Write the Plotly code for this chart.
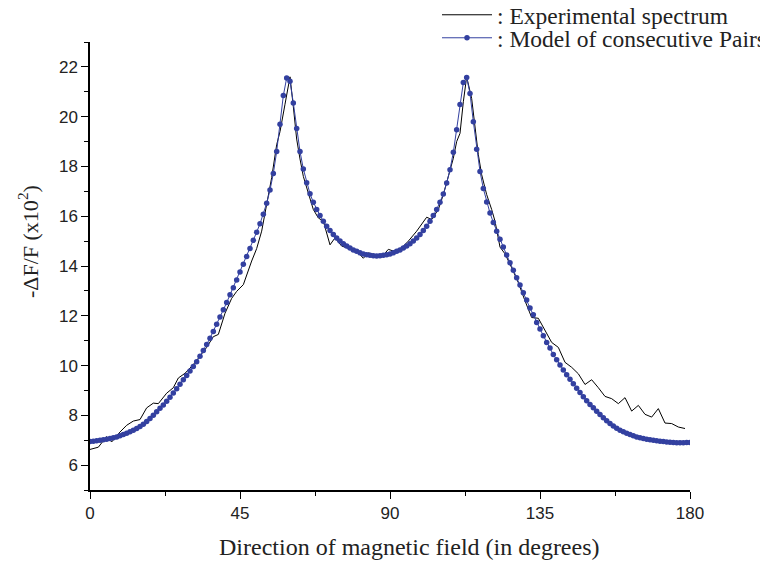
import plotly.graph_objects as go

# Model of consecutive pairs: one point per degree, 0..180
model_angle = list(range(181))
model_value = [
    6.95, 6.96, 6.98, 7.00, 7.02, 7.04, 7.07, 7.10, 7.13, 7.18, 7.23, 7.28, 7.34, 7.40, 7.47,
    7.55, 7.64, 7.75, 7.87, 8.00, 8.14, 8.28, 8.42, 8.57, 8.73, 8.90, 9.07, 9.25, 9.43, 9.60,
    9.78, 9.96, 10.15, 10.37, 10.60, 10.85, 11.10, 11.37, 11.66, 11.95, 12.24, 12.53, 12.84, 13.13, 13.44,
    13.76, 14.07, 14.38, 14.70, 15.03, 15.36, 15.70, 16.08, 16.52, 17.05, 17.72, 18.60, 19.70, 20.85, 21.55,
    21.42, 20.55, 19.52, 18.60, 17.90, 17.34, 16.90, 16.56, 16.27, 16.03, 15.80, 15.60, 15.43, 15.27, 15.13,
    15.00, 14.89, 14.80, 14.72, 14.64, 14.59, 14.53, 14.48, 14.45, 14.43, 14.41, 14.40, 14.41, 14.43, 14.45,
    14.48, 14.53, 14.59, 14.64, 14.72, 14.80, 14.89, 15.00, 15.13, 15.27, 15.43, 15.60, 15.80, 16.03, 16.27,
    16.56, 16.89, 17.33, 17.87, 18.57, 19.47, 20.49, 21.37, 21.57, 20.93, 19.80, 18.69, 17.80, 17.11, 16.57,
    16.13, 15.75, 15.40, 15.07, 14.76, 14.44, 14.13, 13.83, 13.53, 13.24, 12.93, 12.63, 12.31, 12.04, 11.73,
    11.47, 11.20, 10.93, 10.71, 10.44, 10.23, 10.02, 9.82, 9.63, 9.45, 9.27, 9.09, 8.92, 8.75, 8.59,
    8.44, 8.30, 8.16, 8.03, 7.90, 7.78, 7.67, 7.57, 7.48, 7.40, 7.34, 7.28, 7.23, 7.18, 7.13,
    7.10, 7.07, 7.04, 7.02, 7.00, 6.98, 6.96, 6.95, 6.93, 6.92, 6.91, 6.90, 6.90, 6.90, 6.91, 6.91,
]

# Experimental spectrum (angle in degrees, value)
exp_angle = [
    0, 2.5, 5, 6.5, 9, 11, 13, 15, 17, 19, 20.5, 23, 25, 26.5, 28.5, 31, 33, 35, 37, 38.5,
    40.5, 42.5, 44, 46, 48.5, 50, 51.5, 53, 54.5, 56, 57, 58.5, 60, 61, 62, 63, 64, 65.5, 67, 68.5,
    70, 72, 73.5, 75.5, 78.5, 80.5, 82, 83.5, 85, 87.5, 89.5, 91, 93.5, 95.5, 98, 99.5, 101, 102.5, 104.5, 106,
    107.5, 109, 110, 111, 112, 113, 114.5, 115.5, 116.5, 117.5, 119, 120.5, 121.5, 123, 124.5, 126.5, 128.5, 130.5,
    132.5, 134.5, 136.5, 138.5, 140.5, 142.5, 144.5, 146.5, 148.5, 150.5, 152.5, 154.5, 156.5, 158.5, 160.5,
    162.5, 164.5, 166.5, 168.5, 170.5, 172.5, 174.5, 176.5, 178.5,
]
exp_value = [
    6.63, 6.72, 7.15, 6.93, 7.33, 7.60, 7.77, 7.83, 8.30, 8.49, 8.47, 8.89, 9.11, 9.50, 9.69, 10.04, 10.38, 10.73, 11.16, 11.25,
    12.10, 12.70, 12.98, 13.25, 14.20, 14.70, 15.40, 16.40, 17.55, 18.87, 19.40, 20.50, 21.60, 20.40, 19.10, 18.30, 17.60, 16.93, 16.27, 15.93,
    15.80, 14.85, 15.13, 14.80, 14.67, 14.53, 14.31, 14.53, 14.47, 14.36, 14.67, 14.60, 14.73, 15.00, 15.40, 15.69, 15.96, 15.87, 16.27, 16.87,
    17.60, 18.33, 19.00, 19.33, 20.60, 21.60, 20.73, 19.67, 18.47, 17.67, 16.87, 16.27, 15.80, 14.76, 14.49, 13.93, 13.33, 12.60,
    11.93, 11.90, 11.40, 10.93, 10.73, 10.13, 9.93, 9.67, 9.24, 9.43, 9.11, 8.76, 8.67, 8.47, 8.71,
    8.17, 8.40, 8.04, 7.93, 8.27, 7.69, 7.67, 7.53, 7.47,
]

x_ticks = [0, 45, 90, 135, 180]
y_ticks = [6, 8, 10, 12, 14, 16, 18, 20, 22]

x_title = "Direction of magnetic field (in degrees)"
y_title = "-ΔF/F (x10<sup>2</sup>)"
name_exp = ": Experimental spectrum"
name_model = ": Model of consecutive Pairs"

BLUE = "#3340A0"
TEXT = "#222222"
SERIF = "Liberation Serif, Times New Roman, serif"
SANS = "Liberation Sans, Arial, sans-serif"

fig = go.Figure()
fig.add_trace(go.Scatter(
    x=exp_angle, y=exp_value, mode="lines", name=name_exp,
    line=dict(color="black", width=1), legend="legend",
))
fig.add_trace(go.Scatter(
    x=model_angle, y=model_value, mode="lines+markers", name=name_model,
    line=dict(color=BLUE, width=1),
    marker=dict(color=BLUE, size=5.5), legend="legend2",
))

axis_common = dict(
    showgrid=False, zeroline=False, showline=True, linecolor="black", linewidth=1.5,
    ticks="outside", ticklen=7, tickwidth=1.3, tickcolor="black", automargin=False,
    tickfont=dict(family=SANS, size=17, color=TEXT),
)
fig.update_xaxes(
    range=[0, 180], tickvals=x_ticks, **axis_common,
    minor=dict(ticks="outside", ticklen=4, tickwidth=1.3, tickcolor="black", dtick=22.5, tick0=0),
)
fig.update_yaxes(
    range=[5, 23], tickvals=y_ticks, **axis_common,
    minor=dict(ticks="outside", ticklen=4, tickwidth=1.3, tickcolor="black", dtick=1, tick0=5),
)

legend_common = dict(
    xref="container", yref="container", xanchor="left", yanchor="middle",
    font=dict(family=SERIF, size=23.5, color=TEXT),
    bgcolor="rgba(0,0,0,0)", itemwidth=50,
)

# The page body adds an 8px offset; margins compensate so the plot area
# lands at x 90..690, y 42..490 in the browser window.
fig.update_layout(
    width=768, height=563,
    margin=dict(l=82, r=86, t=34, b=81, autoexpand=False),
    plot_bgcolor="white", paper_bgcolor="white",
    showlegend=True,
    legend=dict(x=429 / 768, y=1 - 7 / 563, **legend_common),
    legend2=dict(x=429 / 768, y=1 - 30 / 563, **legend_common),
    annotations=[
        dict(text=x_title, xref="paper", yref="paper", x=0.5325, y=-0.127,
             xanchor="center", yanchor="middle", showarrow=False,
             font=dict(family=SERIF, size=24, color=TEXT)),
        dict(text=y_title, xref="paper", yref="paper", x=-0.103, y=0.554,
             xanchor="center", yanchor="middle", showarrow=False, textangle=-90,
             font=dict(family=SERIF, size=22, color=TEXT)),
    ],
)

fig.write_html("out.html")
